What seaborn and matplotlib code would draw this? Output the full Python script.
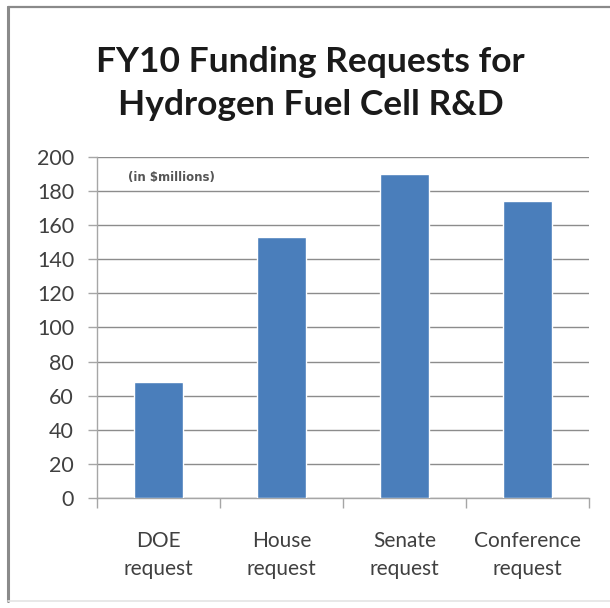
import matplotlib
matplotlib.use("Agg")
import matplotlib.pyplot as plt
from matplotlib.lines import Line2D
import seaborn as sns
import pandas as pd

# FY10 hydrogen fuel cell R&D funding requests, $ millions
categories = ["DOE\nrequest", "House\nrequest", "Senate\nrequest", "Conference\nrequest"]
funding = [68.2, 153.0, 190.0, 174.0]
y_ticks = [0, 20, 40, 60, 80, 100, 120, 140, 160, 180, 200]

df = pd.DataFrame({"category": categories, "funding": funding})

sns.set_theme(style="white")
plt.rcParams["font.family"] = ["Lato", "DejaVu Sans"]

fig = plt.figure(figsize=(6.1, 6.08), dpi=100)
ax = fig.add_axes([0.159, 0.181, 0.8066, 0.5608])

sns.barplot(data=df, x="category", y="funding", color="#4a7ebb",
            saturation=1, width=0.4, ax=ax, zorder=3)

grid_col = "#8c8c8c"
ax.set_ylim(0, 200)
ax.set_xlim(-0.5, 3.5)
ax.set_yticks(y_ticks)
ax.set_yticklabels([str(v) for v in y_ticks])
ax.yaxis.grid(True, color=grid_col, linewidth=1.0, zorder=0)
ax.set_axisbelow(True)

for side in ("top", "right"):
    ax.spines[side].set_visible(False)
for side in ("left", "bottom"):
    ax.spines[side].set_color("#a6a6a6")
    ax.spines[side].set_linewidth(1.0)

ax.set_xlabel("")
ax.set_ylabel("")

# category separators below the x axis
ax.set_xticks([-0.5, 0.5, 1.5, 2.5, 3.5], minor=True)
ax.tick_params(axis="x", which="minor", length=7, width=1, color="#a6a6a6",
               direction="out", bottom=True)
ax.tick_params(axis="x", which="major", length=0, pad=24,
               labelsize=15, labelcolor="#404040")
ax.tick_params(axis="y", which="major", length=6.5, width=1, color="#a6a6a6",
               direction="out", left=True, pad=10, labelsize=15.5,
               labelcolor="#404040")
for lbl in ax.get_xticklabels():
    lbl.set_linespacing(1.5)

ax.text(0.063, 0.94, "(in $millions)", transform=ax.transAxes,
        fontsize=8.5, fontweight="bold", family="DejaVu Sans",
        color="#555555", va="center", ha="left")

fig.text(0.509, 1 - 62 / 608, "FY10 Funding Requests for", ha="center", va="center",
         fontsize=25.5, fontweight="bold", color="#1a1a1a")
fig.text(0.509, 1 - 105 / 608, "Hydrogen Fuel Cell R&D", ha="center", va="center",
         fontsize=25.5, fontweight="bold", color="#1a1a1a")

# chart frame
fig.add_artist(Line2D([8 / 610, 8 / 610], [1 - 7 / 608, 1 - 601 / 608],
                      transform=fig.transFigure, color="#8a8a8a", linewidth=2.2))
fig.add_artist(Line2D([8 / 610, 1.0], [1 - 7 / 608, 1 - 7 / 608],
                      transform=fig.transFigure, color="#8a8a8a", linewidth=1.6))
fig.add_artist(Line2D([8 / 610, 1.0], [1 - 601 / 608, 1 - 601 / 608],
                      transform=fig.transFigure, color="#e4e4e4", linewidth=1.2))

fig.savefig("out.png", dpi=100)
